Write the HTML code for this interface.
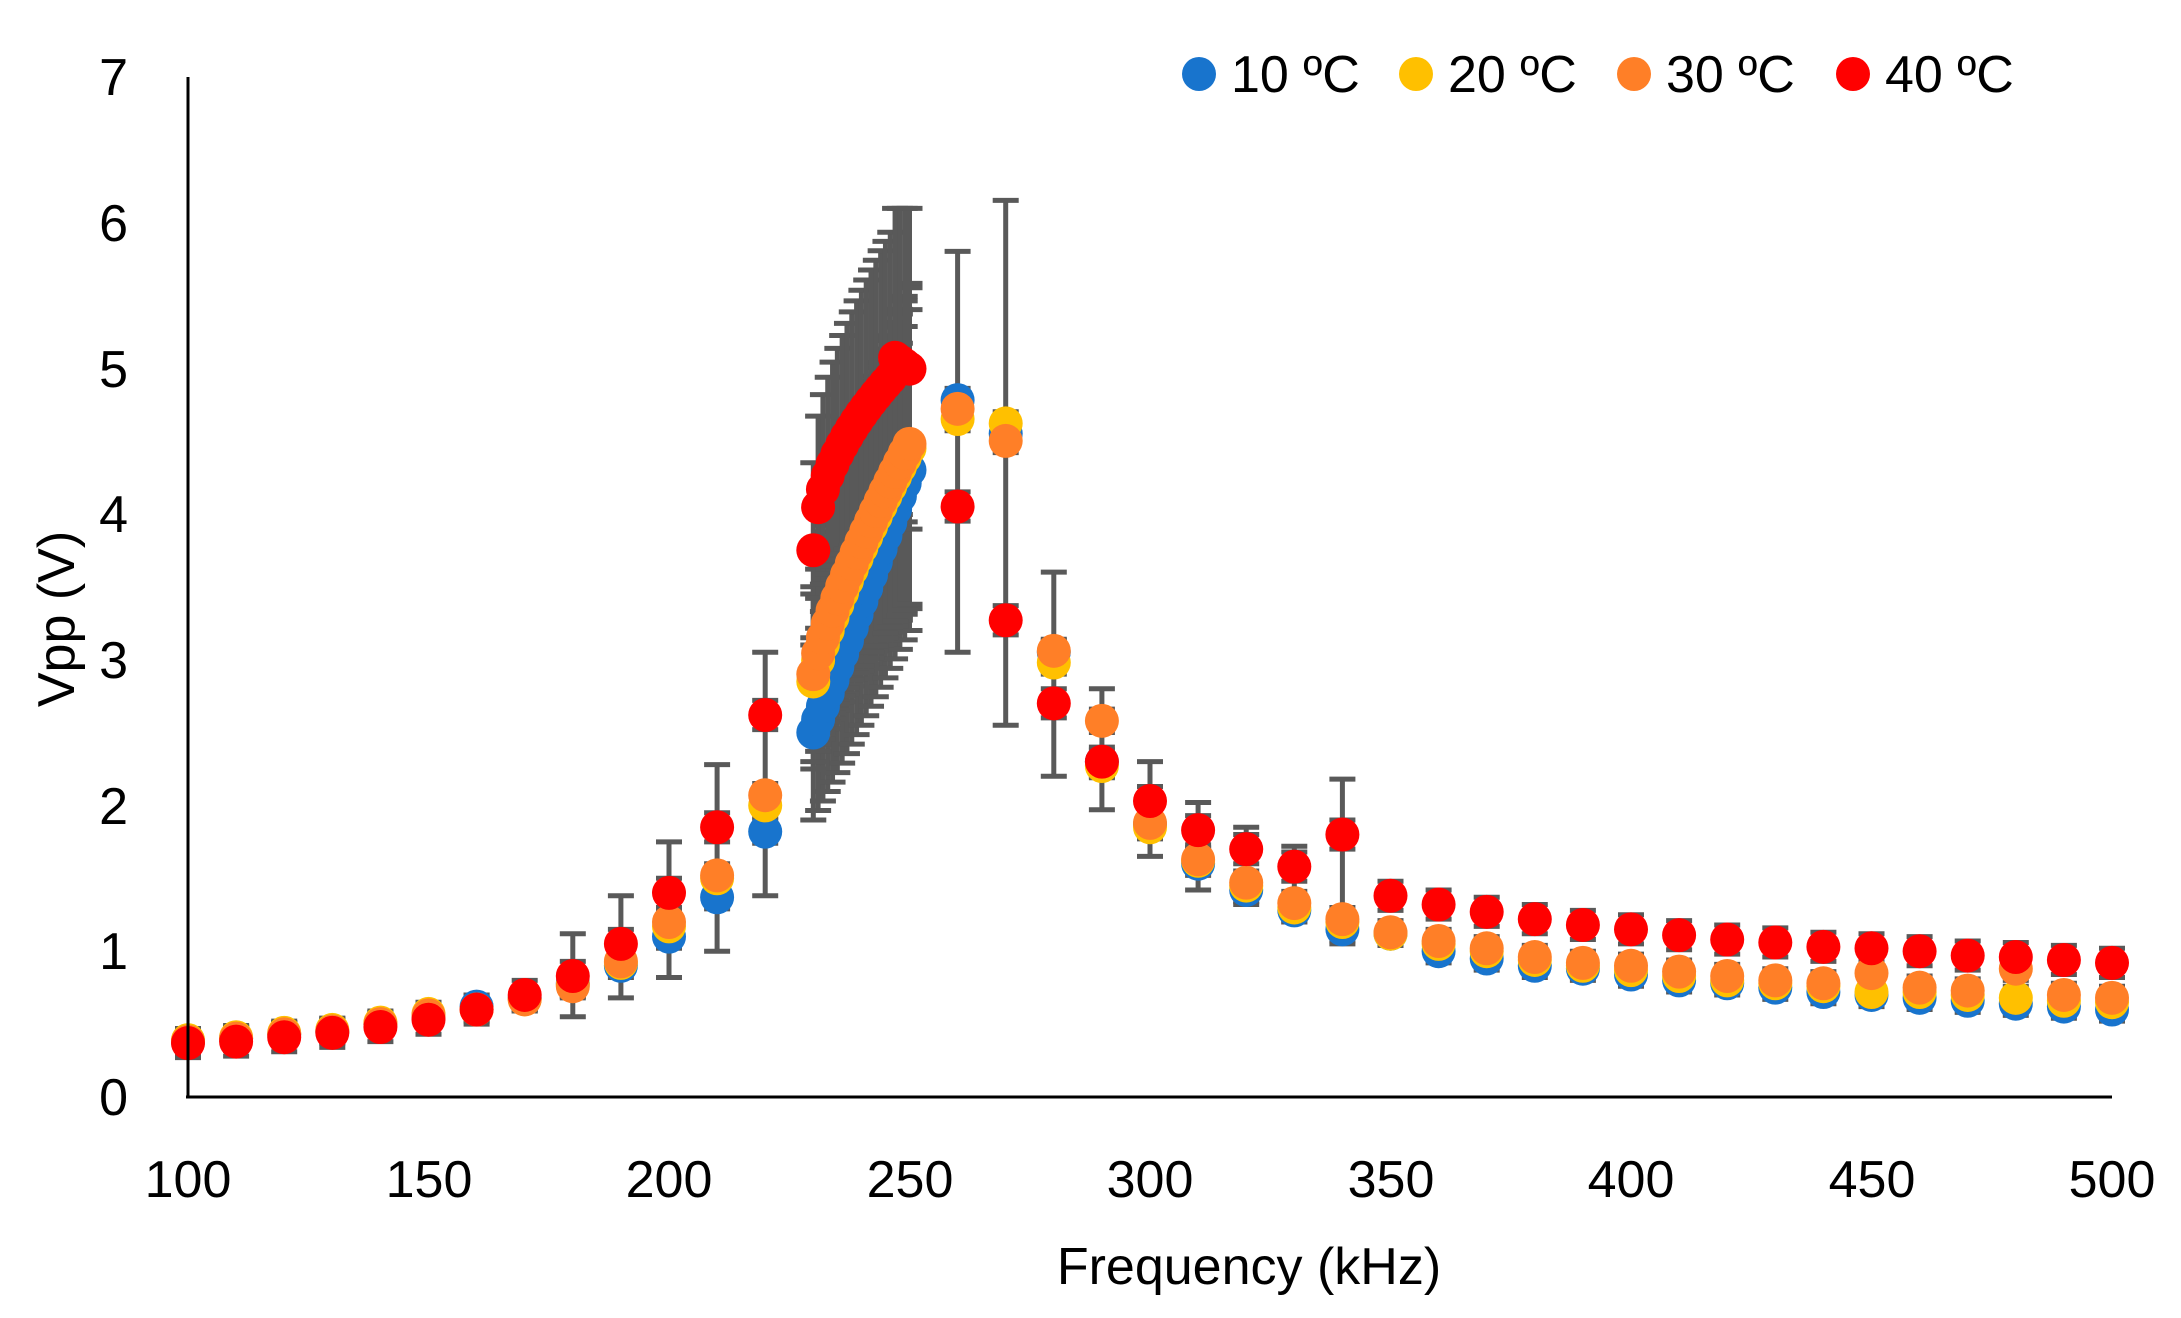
<!DOCTYPE html>
<html><head><meta charset="utf-8"><style>
html,body{margin:0;padding:0;background:#fff;}
svg{display:block;font-family:"Liberation Sans","DejaVu Sans",sans-serif;}
</style></head><body>
<svg id="c" width="2181" height="1318" viewBox="0 0 2181 1318" xmlns="http://www.w3.org/2000/svg">
<rect width="2181" height="1318" fill="#fff"/>
<g id="eb" stroke="#595959" stroke-width="5"></g>
<g id="pts"></g>
<line x1="188" y1="77" x2="188" y2="1098" stroke="#000" stroke-width="3"/>
<line x1="186" y1="1097" x2="2112" y2="1097" stroke="#000" stroke-width="3"/>
<g font-size="52" fill="#000" text-anchor="end">
<text x="128" y="1115">0</text><text x="128" y="969">1</text><text x="128" y="824">2</text>
<text x="128" y="678">3</text><text x="128" y="532">4</text><text x="128" y="387">5</text>
<text x="128" y="241">6</text><text x="128" y="95">7</text>
</g>
<g font-size="52" fill="#000" text-anchor="middle">
<text x="188" y="1197">100</text><text x="429" y="1197">150</text><text x="669" y="1197">200</text>
<text x="910" y="1197">250</text><text x="1150" y="1197">300</text><text x="1391" y="1197">350</text>
<text x="1631" y="1197">400</text><text x="1872" y="1197">450</text><text x="2112" y="1197">500</text>
<text x="1249" y="1284">Frequency (kHz)</text>
<text transform="translate(74,619) rotate(-90)">Vpp (V)</text>
</g>
<g font-size="52" fill="#000">
<circle cx="1199" cy="74" r="17" fill="#1874CD"/><text x="1231" y="92">10 ºC</text>
<circle cx="1416" cy="74" r="17" fill="#FFC000"/><text x="1448" y="92">20 ºC</text>
<circle cx="1634" cy="74" r="17" fill="#FF7F27"/><text x="1666" y="92">30 ºC</text>
<circle cx="1853" cy="74" r="17" fill="#FF0000"/><text x="1885" y="92">40 ºC</text>
</g>
</svg>
<script>
var X=function(f){return 188+(f-100)*4.81;},Y=function(v){return 1097-v*145.8;};
var sparse=[100,110,120,130,140,150,160,170,180,190,200,210,220];
var tail=[260,270,280,290,300,310,320,330,340,350,360,370,380,390,400,410,420,430,440,450,460,470,480,490,500];
var S=[
{c:"#1874CD",a:[.38,.4,.43,.45,.5,.56,.62,.68,.78,.9,1.1,1.37,1.82],d0:2.5,d1:4.3,p:1.0,
 t:[4.78,4.55,3.05,2.3,1.87,1.6,1.42,1.28,1.15,1.12,1.0,.95,.9,.88,.84,.8,.78,.75,.72,.7,.68,.66,.64,.62,.6],e:.08},
{c:"#FFC000",a:[.39,.41,.44,.46,.51,.57,.6,.67,.77,.92,1.17,1.5,2.0],d0:2.85,d1:4.45,p:.8,
 t:[4.65,4.62,2.98,2.27,1.85,1.62,1.45,1.3,1.2,1.12,1.05,1.0,.94,.9,.87,.83,.8,.78,.76,.72,.72,.7,.68,.66,.65],e:.08},
{c:"#FF7F27",a:[.38,.4,.43,.45,.5,.56,.6,.67,.76,.93,1.2,1.52,2.07],d0:2.9,d1:4.48,p:.8,
 t:[4.72,4.5,3.06,2.58,1.88,1.63,1.47,1.33,1.22,1.13,1.07,1.02,.96,.92,.9,.86,.83,.8,.78,.85,.75,.73,.88,.7,.68],e:.08},
{c:"#FF0000",a:[.37,.38,.41,.44,.48,.53,.6,.7,.83,1.05,1.4,1.85,2.62],d0:3.75,d1:5.07,p:.5,
 t:[4.05,3.27,2.7,2.3,2.03,1.83,1.7,1.58,1.8,1.38,1.32,1.27,1.22,1.18,1.15,1.11,1.08,1.06,1.03,1.02,1.0,.97,.96,.94,.92],e:.1}
];
var eb=document.getElementById('eb'),pts=document.getElementById('pts'),h='',g='';
function bar(f,lo,hi){var x=X(f);h+='<line x1="'+x+'" y1="'+Y(hi)+'" x2="'+x+'" y2="'+Y(lo)+'"/>';
 h+='<line x1="'+(x-13)+'" y1="'+Y(hi)+'" x2="'+(x+13)+'" y2="'+Y(hi)+'"/><line x1="'+(x-13)+'" y1="'+Y(lo)+'" x2="'+(x+13)+'" y2="'+Y(lo)+'"/>';}
function dot(f,v,c){g+='<circle cx="'+X(f)+'" cy="'+Y(v)+'" r="17" fill="'+c+'"/>';}
function dv(s,k,f){var u=(f-230)/20;var v=s.d0+(s.d1-s.d0)*Math.pow(u,s.p);if(k==3&&f>=247)v=5.07-(f-247)*0.025;return v;}
var big={220:[1.38,3.05],210:[1.0,2.28],200:[.82,1.75],190:[.68,1.38],180:[.55,1.12],260:[3.05,5.8],270:[2.55,6.15],280:[2.2,3.6],290:[1.97,2.8],300:[1.65,2.3],310:[1.42,2.02],320:[1.32,1.85],330:[1.2,1.72],340:[1.05,2.18]};
S.forEach(function(s,k){
 sparse.forEach(function(f,i){var v=s.a[i];bar(f,v-s.e,v+s.e);});
 for(var f=230;f<=250;f+=1){var u=(f-230)/20;var v=dv(s,k,f);var r=0.6+0.5*u;bar(f,v-r,v+r);}
 tail.forEach(function(f,i){var v=s.t[i];bar(f,v-s.e,v+s.e);});
});
for(var f in big){bar(+f,big[f][0],big[f][1]);}
S.forEach(function(s,k){
 sparse.forEach(function(f,i){dot(f,s.a[i],s.c);});
 for(var f=230;f<=250;f+=1){dot(f,dv(s,k,f),s.c);}
 tail.forEach(function(f,i){dot(f,s.t[i],s.c);});
});
eb.innerHTML=h;pts.innerHTML=g;
</script>
</body></html>
